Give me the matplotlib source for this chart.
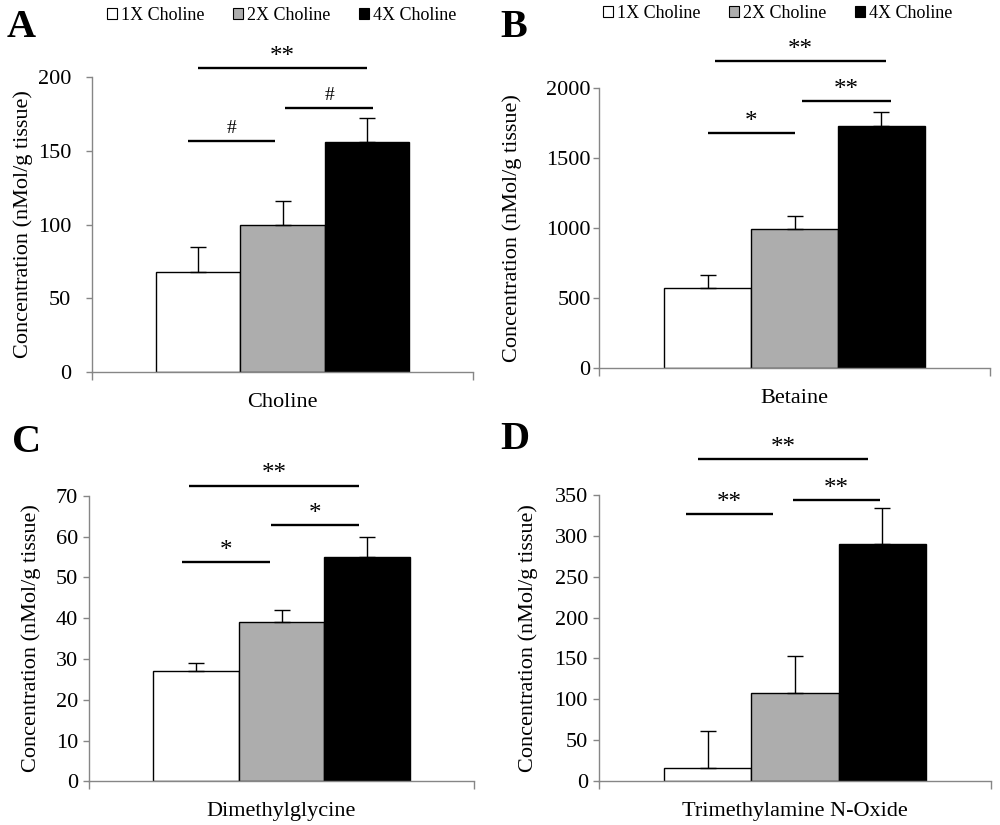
import matplotlib
matplotlib.use("Agg")
import matplotlib.pyplot as plt
from matplotlib.patches import Patch

plt.rcParams['font.family'] = ['Liberation Serif', 'DejaVu Serif']

# ---- data ----
groups = ["1X Choline", "2X Choline", "4X Choline"]
colors = ["#ffffff", "#adadad", "#000000"]

names = ["Choline", "Betaine", "Dimethylglycine", "Trimethylamine N-Oxide"]
letters = ["A", "B", "C", "D"]

choline_vals = [68, 100, 156]
choline_err = [17, 16, 16]
betaine_vals = [567, 988, 1726]
betaine_err = [95, 95, 100]
dmg_vals = [27, 39, 55]
dmg_err = [2, 3, 5]
tmao_vals = [16, 108, 290]
tmao_err = [45, 45, 44]

ylims = [200, 2000, 70, 350]
ysteps = [50, 500, 10, 50]

# significance brackets: (start bar idx, end bar idx, y value, label)
choline_sig = [(0.0, 2.0, 206, "**"), (-0.12, 0.91, 156.6, "#"), (1.03, 2.07, 179, "#")]
betaine_sig = [(0.08, 2.05, 2191, "**"), (0.0, 1.0, 1674, "*"), (1.09, 2.11, 1907, "**")]
dmg_sig = [(-0.08, 1.91, 72.5, "**"), (-0.17, 0.87, 53.7, "*"), (0.88, 1.91, 62.8, "*")]
tmao_sig = [(-0.12, 1.84, 394, "**"), (-0.25, 0.75, 327, "**"), (0.98, 1.98, 343.5, "**")]

vals = [choline_vals, betaine_vals, dmg_vals, tmao_vals]
errs = [choline_err, betaine_err, dmg_err, tmao_err]
sigs = [choline_sig, betaine_sig, dmg_sig, tmao_sig]

# ---- layout (pixels in 1000x825 figure) ----
W, H = 1000, 825
boxes = [(92, 473, 372, 77), (599, 990, 367.7, 87.7), (89, 474, 781.3, 495.7), (599, 991, 781.3, 494.7)]
ylab_x = [-0.18, -0.222, -0.15, -0.182]
ytick_pad = [11, 2, 4, 4]
letter_pos = [(7, 37), (500, 37), (12, 452), (500, 449)]
legend_pos = [(107, 15), (603, 13)]

fig = plt.figure(figsize=(10, 8.25), dpi=100)
spine_col = "#868686"
bw = 0.222

for k in range(4):
    l, r, y0, yt = boxes[k]
    ax = fig.add_axes([l / W, 1 - y0 / H, (r - l) / W, (y0 - yt) / H])
    xs = [(i - 1) * bw for i in range(3)]
    for i in range(3):
        ax.bar(xs[i], vals[k][i], width=bw, color=colors[i], edgecolor="black",
               linewidth=1.0, zorder=2)
        ax.errorbar(xs[i], vals[k][i], yerr=[[0], [errs[k][i]]], fmt="none",
                    ecolor="black", elinewidth=1.0, capsize=6, capthick=1.0, zorder=3)
    ax.set_xlim(-0.5, 0.5)
    ax.set_ylim(0, ylims[k])
    ax.set_yticks([ysteps[k] * j for j in range(int(ylims[k] / ysteps[k]) + 1)])
    ax.tick_params(axis="y", labelsize=16, length=4, width=1, color=spine_col,
                   pad=ytick_pad[k], direction="out")
    ax.set_xticks([0])
    ax.set_xticklabels([names[k]], fontsize=16)
    ax.tick_params(axis="x", which="major", length=0, pad=15)
    ax.set_xticks([-0.5, 0.5], minor=True)
    ax.tick_params(axis="x", which="minor", length=6, width=1, color=spine_col, direction="out")
    for s in ["top", "right"]:
        ax.spines[s].set_visible(False)
    for s in ["left", "bottom"]:
        ax.spines[s].set_color(spine_col)
        ax.spines[s].set_linewidth(1.0)
    ax.set_ylabel("Concentration (nMol/g tissue)", fontsize=16, va="center")
    ax.yaxis.set_label_coords(ylab_x[k], 0.5)

    for (a, b, yv, lab) in sigs[k]:
        xa = (a - 1) * bw
        xb = (b - 1) * bw
        ax.plot([xa, xb], [yv, yv], color="black", lw=1.7, clip_on=False,
                solid_capstyle="butt")
        fs = 14 if lab == "#" else 18
        off = 3 if lab == "#" else 0
        ax.annotate(lab, xy=((xa + xb) / 2, yv), xytext=(0, off), textcoords="offset points",
                    ha="center", va="bottom", fontsize=fs, annotation_clip=False)

    lx, ly = letter_pos[k]
    fig.text(lx / W, 1 - ly / H, letters[k], fontsize=29, fontweight="bold",
             ha="left", va="baseline")

    if k < 2:
        handles = [Patch(facecolor=c, edgecolor="black", linewidth=0.8) for c in colors]
        lx, ly = legend_pos[k]
        ax.legend(handles, groups, loc="center left", bbox_to_anchor=(lx / W, 1 - ly / H),
                  bbox_transform=fig.transFigure, ncol=3, frameon=False, fontsize=13,
                  handlelength=0.55, handleheight=0.55, handletextpad=0.25,
                  columnspacing=1.55, borderpad=0, borderaxespad=0)

fig.savefig("out.png", dpi=100)
